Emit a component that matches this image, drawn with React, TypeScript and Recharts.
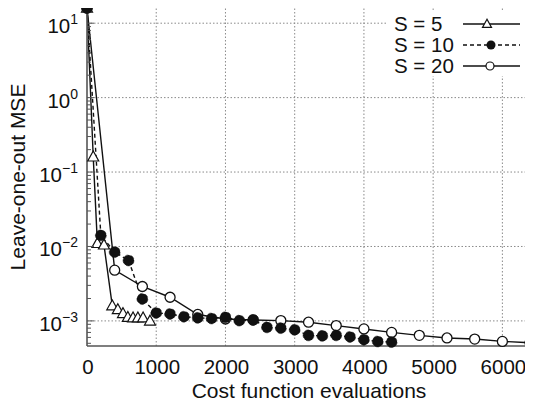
import React from 'react';
import { LineChart, Line, XAxis, YAxis, Legend, ReferenceLine, Label } from 'recharts';

// Swarm size S = 5
const s5Evals = [0, 90, 150, 245, 365, 445, 520, 590, 665, 735, 810, 910];
const s5Mse = [16, 0.16, 0.011, 0.0105, 0.0016, 0.00142, 0.00126, 0.00112, 0.0011, 0.0011, 0.0011, 0.001];

// Swarm size S = 10
const s10Evals = [0, 200, 400, 600, 800, 1000, 1200, 1400, 1600, 1800, 2000, 2200, 2400, 2600, 2800, 3000, 3200, 3400, 3600, 3800, 4000, 4200, 4400];
const s10Mse = [16, 0.0141, 0.0084, 0.0065, 0.00197, 0.00128, 0.00124, 0.00114, 0.0011, 0.00108, 0.00112, 0.00101, 0.00103, 0.00082, 0.0008, 0.00076, 0.00064, 0.00063, 0.00064, 0.00061, 0.00056, 0.00053, 0.00052];

// Swarm size S = 20
const s20Evals = [0, 400, 800, 1200, 1600, 2000, 2400, 2800, 3200, 3600, 4000, 4400, 4800, 5200, 5600, 6000, 6400];
const s20Mse = [16, 0.0048, 0.0029, 0.00208, 0.00122, 0.00106, 0.00103, 0.00101, 0.00096, 0.000865, 0.00078, 0.0007, 0.00064, 0.00059, 0.00057, 0.00053, 0.00051];

const seriesNames = ['S = 5', 'S = 10', 'S = 20'];

const xTicks = [0, 1000, 2000, 3000, 4000, 5000, 6000];
const yTicks = [1e-3, 1e-2, 1e-1, 1, 10];
const yExponents = ['\u22123', '\u22122', '\u22121', '0', '1'];

const X_DOMAIN: [number, number] = [0, 6500];
const Y_DOMAIN: [number, number] = [4.6e-4, 16];

// log-axis minor tick positions (2..9 times each decade) inside the domain
const yMinorTicks: number[] = [];
for (let k = -4; k <= 1; k++) {
  for (let m = 2; m <= 9; m++) {
    const v = m * Math.pow(10, k);
    if (v > Y_DOMAIN[0] && v < Y_DOMAIN[1]) yMinorTicks.push(v);
  }
}
const yAllTicks = [...yTicks, ...yMinorTicks].sort((a, b) => a - b);

const FONT = '"Liberation Sans", Arial, Helvetica, sans-serif';
const INK = '#111';
const AXIS = '#555';
const GRID = '#8a8a8a';
const TICK_SIZE = 20.5;
const TITLE_SIZE = 21;

const toPoints = (xs: number[], ys: number[]) => xs.map((x, i) => ({ x, y: ys[i] }));
const s5Data = toPoints(s5Evals, s5Mse);
const s10Data = toPoints(s10Evals, s10Mse);
const s20Data = toPoints(s20Evals, s20Mse);

const trianglePath = (cx: number, cy: number, r: number) =>
  `M${cx},${cy - r * 1.05} L${cx - r},${cy + r * 0.75} L${cx + r},${cy + r * 0.75} Z`;

const TriangleDot = (props: any) => {
  const { cx, cy, index } = props;
  if (cx == null || cy == null) return <g key={`t-${index}`} />;
  return <path key={`t-${index}`} d={trianglePath(cx, cy, 5.5)} fill="#fff" stroke={INK} strokeWidth={1.2} />;
};

const YTick = (props: any) => {
  const { x, y, payload } = props;
  const idx = yTicks.indexOf(payload.value);
  const major = idx >= 0;
  return (
    <g>
      <line x1={x} x2={x + (major ? 7 : 4)} y1={y} y2={y} stroke={AXIS} strokeWidth={1} />
      {major && (
        <text x={x - 9} y={y + 10} textAnchor="end" fontSize={TICK_SIZE} fill={INK} fontFamily={FONT}>
          10
          <tspan dy={-9} fontSize={14}>{yExponents[idx]}</tspan>
        </text>
      )}
    </g>
  );
};

const XTick = (props: any) => {
  const { x, y, payload } = props;
  return (
    <text x={x + 1} y={y + 27.5} textAnchor="middle" fontSize={TICK_SIZE} fill={INK} fontFamily={FONT}>
      {payload.value}
    </text>
  );
};

const legendStyles = [
  { dash: undefined as string | undefined, marker: 'triangle' },
  { dash: '4 3', marker: 'filled' },
  { dash: undefined as string | undefined, marker: 'open' },
];

const LegendBox = () => (
  <svg width={140} height={66} style={{ display: 'block' }}>
    <rect x={0} y={0} width={140} height={66} fill="#fff" />
    {seriesNames.map((name, i) => {
      const cy = 14 + i * 21;
      const st = legendStyles[i];
      return (
        <g key={name}>
          <text x={6} y={cy + 7} fontSize={TICK_SIZE} fill={INK} fontFamily={FONT}>{name}</text>
          <line x1={75} x2={132} y1={cy} y2={cy} stroke={INK} strokeWidth={1.3} strokeDasharray={st.dash} />
          {st.marker === 'triangle' && <path d={trianglePath(99, cy, 4.5)} fill="#fff" stroke={INK} strokeWidth={1.2} />}
          {st.marker === 'filled' && <circle cx={103} cy={cy} r={4.5} fill={INK} />}
          {st.marker === 'open' && <circle cx={102} cy={cy} r={4} fill="#fff" stroke={INK} strokeWidth={1.2} />}
        </g>
      );
    })}
  </svg>
);

export default function App() {
  return (
    <div style={{ margin: -8, width: 533, height: 411, overflow: 'hidden', background: '#fff', position: 'relative' }}>
      <LineChart width={545} height={411} margin={{ top: 8, right: 8, bottom: 0, left: 0 }} style={{ fontFamily: FONT }}>
        <XAxis
          xAxisId="bottom"
          type="number"
          dataKey="x"
          domain={X_DOMAIN}
          ticks={xTicks}
          tick={<XTick />}
          tickSize={0}
          tickMargin={0}
          tickLine={false}
          height={65}
          axisLine={{ stroke: AXIS, strokeWidth: 1.6 }}
        >
          <Label value="Cost function evaluations" position="insideBottom" offset={13.5} dx={-3} fontSize={TITLE_SIZE} fill={INK} fontFamily={FONT} />
        </XAxis>
        <XAxis
          xAxisId="top"
          orientation="top"
          type="number"
          dataKey="x"
          domain={X_DOMAIN}
          ticks={xTicks}
          tick={false}
          mirror
          tickSize={5}
          height={0}
          tickLine={{ stroke: AXIS }}
          axisLine={{ stroke: '#666', strokeWidth: 2 }}
        />
        <YAxis
          yAxisId="left"
          type="number"
          dataKey="y"
          scale="log"
          domain={Y_DOMAIN}
          ticks={yAllTicks}
          interval={0}
          tick={<YTick />}
          tickSize={0}
          tickMargin={0}
          tickLine={false}
          width={87}
          axisLine={{ stroke: AXIS, strokeWidth: 1.6 }}
        >
          <Label
            content={(p: any) => {
              const vb = p.viewBox || {};
              const cy = (vb.y ?? 8) + (vb.height ?? 338) / 2;
              return (
                <text
                  x={25}
                  y={cy}
                  transform={`rotate(-90, 25, ${cy})`}
                  textAnchor="middle"
                  fontSize={TITLE_SIZE}
                  fill={INK}
                  fontFamily={FONT}
                >
                  Leave-one-out MSE
                </text>
              );
            }}
          />
        </YAxis>

        {xTicks.slice(1).map((t) => (
          <ReferenceLine key={`gx-${t}`} xAxisId="bottom" yAxisId="left" x={t} stroke={GRID} strokeWidth={1} strokeDasharray="1.5 2" />
        ))}
        {yTicks.map((t) => (
          <ReferenceLine key={`gy-${t}`} xAxisId="bottom" yAxisId="left" y={t} stroke={GRID} strokeWidth={1} strokeDasharray="1.5 2" />
        ))}

        <Line
          xAxisId="bottom"
          yAxisId="left"
          data={s20Data}
          dataKey="y"
          name={seriesNames[2]}
          stroke={INK}
          strokeWidth={1.4}
          dot={{ r: 5, fill: '#fff', stroke: INK, strokeWidth: 1.3 }}
          activeDot={false}
          isAnimationActive={false}
        />
        <Line
          xAxisId="bottom"
          yAxisId="left"
          data={s5Data}
          dataKey="y"
          name={seriesNames[0]}
          stroke={INK}
          strokeWidth={1.4}
          dot={<TriangleDot />}
          activeDot={false}
          isAnimationActive={false}
        />
        <Line
          xAxisId="bottom"
          yAxisId="left"
          data={s10Data}
          dataKey="y"
          name={seriesNames[1]}
          stroke={INK}
          strokeWidth={1.4}
          strokeDasharray="4 3"
          dot={{ r: 5.5, fill: INK, stroke: INK, strokeWidth: 0.5 }}
          activeDot={false}
          isAnimationActive={false}
        />

        <Legend
          layout="vertical"
          align="center"
          verticalAlign="middle"
          content={() => <LegendBox />}
          wrapperStyle={{ position: 'absolute', left: 388, top: 10, width: 140, height: 66 }}
        />
      </LineChart>
    </div>
  );
}
